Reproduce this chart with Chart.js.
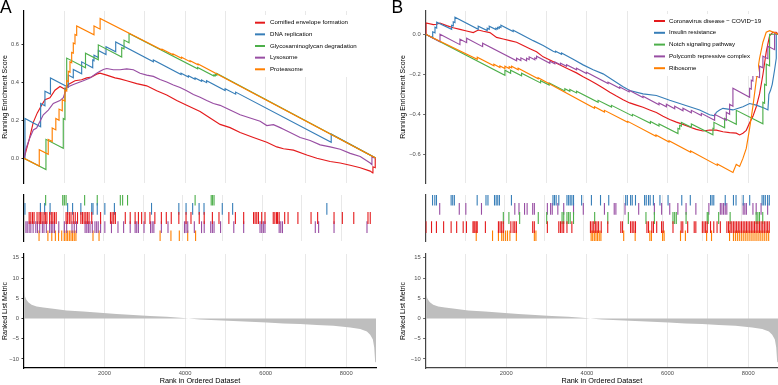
<!DOCTYPE html>
<html><head><meta charset="utf-8">
<script src="https://cdn.jsdelivr.net/npm/chart.js@4.4.1/dist/chart.umd.min.js"></script>
<style>
html,body{margin:0;padding:0;background:#fff;}
#wrap{position:relative;width:778px;height:385px;overflow:hidden;background:#fff;}
canvas{position:absolute;}
</style></head><body>
<div id="wrap">
<canvas id="aTop"></canvas><canvas id="aCode"></canvas><canvas id="aMetric"></canvas>
<canvas id="bTop"></canvas><canvas id="bCode"></canvas><canvas id="bMetric"></canvas>
</div>
<script>
// ---------------- DATA ----------------
const N_GENES = 8740;
const setColors = ['#E41A1C', '#377EB8', '#4DAF4A', '#984EA3', '#FF7F00'];
const setsA = ['Cornified envelope formation', 'DNA replication', 'Glycosaminoglycan degradation', 'Lysosome', 'Proteasome'];
const setsB = ['Coronavirus disease \u2212 COVID\u221219', 'Insulin resistance', 'Notch signaling pathway', 'Polycomb repressive complex', 'Ribosome'];
const xTickLabels = [2000, 4000, 6000, 8000];
const xGridLines = [1000, 2000, 3000, 4000, 5000, 6000, 7000, 8000];

// running enrichment score vertices [rank, score]
const esA_cornified = [[0,0],[65,0.05],[130,0.10],[230,0.19],[330,0.24],[437,0.28],[520,0.31],[644,0.32],[769,0.36],[893,0.38],[1017,0.365],[1100,0.39],[1266,0.41],[1431,0.415],[1556,0.425],[1680,0.43],[1804,0.445],[1887,0.45],[2053,0.44],[2260,0.425],[2384,0.42],[2550,0.41],[2798,0.395],[3047,0.383],[3295,0.357],[3544,0.335],[3792,0.306],[4040,0.28],[4372,0.247],[4620,0.213],[4869,0.179],[5117,0.162],[5366,0.136],[5697,0.11],[6028,0.085],[6277,0.06],[6443,0.05],[6691,0.043],[7022,0.017],[7271,0],[7602,-0.017],[7851,-0.025],[8099,-0.037],[8348,-0.05],[8596,-0.068],[8660,-0.078],[8664,-0.045],[8721,-0.05],[8721,-0.005],[8740,0]];
const esA_dna = [[0,0],[24,-0.003],[24,0.21],[413,0.166],[413,0.29],[520,0.278],[520,0.355],[657,0.34],[657,0.425],[1099,0.376],[1099,0.44],[1224,0.426],[1224,0.47],[1432,0.447],[1432,0.51],[1706,0.479],[1706,0.52],[1738,0.516],[1738,0.545],[1845,0.533],[1845,0.57],[2036,0.549],[2036,0.59],[2277,0.563],[2277,0.615],[3212,0.51],[3212,0.52],[3900,0.443],[3900,0.45],[4082,0.43],[4082,0.437],[4248,0.418],[4248,0.425],[4410,0.407],[4410,0.414],[4534,0.40],[4534,0.41],[4994,0.358],[4994,0.368],[5255,0.339],[5255,0.35],[7628,0.084],[7628,0.128],[8740,0]];
const esA_glyco = [[0,0],[545,-0.06],[545,0.10],[975,0.053],[975,0.21],[1017,0.205],[1017,0.37],[1060,0.365],[1060,0.53],[1527,0.479],[1527,0.556],[1845,0.521],[1845,0.60],[2426,0.536],[2426,0.585],[2484,0.579],[2484,0.625],[2608,0.611],[2608,0.66],[4310,0.473],[4310,0.48],[4715,0.435],[4715,0.44],[4750,0.436],[4750,0.443],[4787,0.439],[4787,0.449],[8740,0]];
const esA_lyso = [[0,0],[48,0.05],[130,0.1],[230,0.15],[313,0.16],[479,0.23],[603,0.255],[727,0.29],[893,0.305],[976,0.32],[1059,0.375],[1225,0.39],[1473,0.41],[1638,0.425],[1804,0.45],[1887,0.46],[1970,0.47],[2053,0.475],[2218,0.468],[2384,0.468],[2550,0.473],[2715,0.468],[2881,0.45],[3047,0.44],[3212,0.433],[3378,0.417],[3544,0.403],[3709,0.388],[3875,0.374],[4040,0.357],[4206,0.337],[4372,0.323],[4537,0.306],[4703,0.29],[4869,0.28],[5117,0.255],[5366,0.23],[5614,0.213],[5863,0.196],[6028,0.173],[6194,0.178],[6360,0.162],[6443,0.153],[6608,0.136],[6857,0.11],[7105,0.094],[7354,0.071],[7602,0.06],[7851,0.048],[8099,0.026],[8348,0.009],[8596,-0.025],[8639,-0.034],[8639,0.005],[8740,0]];
const esA_proteasome = [[0,0],[379,-0.041],[379,0.045],[602,0.021],[602,0.10],[700,0.089],[700,0.16],[790,0.15],[790,0.21],[870,0.201],[870,0.26],[950,0.251],[950,0.31],[1017,0.303],[1017,0.36],[1060,0.355],[1060,0.41],[1099,0.406],[1099,0.46],[1142,0.455],[1142,0.51],[1184,0.505],[1184,0.56],[1224,0.556],[1224,0.61],[1266,0.605],[1266,0.655],[1308,0.65],[1308,0.70],[1738,0.653],[1738,0.70],[1890,0.683],[1890,0.74],[3428,0.572],[3428,0.577],[3701,0.547],[3701,0.552],[3912,0.529],[3912,0.534],[4123,0.511],[4123,0.516],[4322,0.494],[4322,0.499],[8740,0]];

const esB_covid = [[0,0],[10,0],[10,0.056],[191,0.048],[274,0.05],[357,0.056],[522,0.043],[687,0.032],[852,0.024],[1017,0.016],[1182,0.008],[1306,0.021],[1430,0.015],[1595,0.008],[1760,-0.016],[1925,-0.024],[2091,-0.032],[2256,-0.04],[2421,-0.056],[2586,-0.072],[2751,-0.088],[2916,-0.113],[3081,-0.129],[3247,-0.145],[3412,-0.161],[3577,-0.177],[3742,-0.193],[3907,-0.212],[4072,-0.23],[4237,-0.249],[4402,-0.269],[4568,-0.29],[4733,-0.309],[4898,-0.327],[5063,-0.343],[5228,-0.354],[5393,-0.365],[5558,-0.378],[5724,-0.391],[5889,-0.41],[6054,-0.426],[6219,-0.439],[6384,-0.45],[6549,-0.463],[6714,-0.475],[6880,-0.483],[7045,-0.478],[7210,-0.479],[7375,-0.487],[7540,-0.491],[7705,-0.494],[7788,-0.503],[7870,-0.494],[7953,-0.48],[8036,-0.442],[8118,-0.41],[8201,-0.362],[8283,-0.298],[8366,-0.201],[8448,-0.088],[8531,-0.008],[8614,0.01],[8696,0.01],[8740,0]];
const esB_insulin = [[0,0],[176,-0.018],[176,0.012],[233,0.007],[233,0.035],[275,0.031],[275,0.06],[646,0.025],[646,0.045],[686,0.042],[686,0.062],[728,0.058],[728,0.085],[1305,0.025],[1305,0.04],[1528,0.018],[1528,0.03],[1578,0.025],[1578,0.04],[1744,0.023],[1744,0.03],[1786,0.026],[1786,0.034],[1826,0.03],[1826,0.038],[1868,0.034],[1868,0.045],[2172,0.013],[2172,0.02],[2669,-0.032],[2916,-0.056],[3164,-0.085],[3223,-0.09],[3223,-0.085],[3371,-0.1],[3371,-0.094],[3660,-0.125],[3907,-0.153],[4155,-0.177],[4402,-0.198],[4650,-0.23],[4898,-0.262],[5063,-0.281],[5393,-0.298],[5724,-0.306],[6054,-0.33],[6302,-0.346],[6549,-0.362],[6797,-0.378],[7045,-0.402],[7169,-0.407],[7211,-0.39],[7292,-0.378],[7375,-0.37],[7623,-0.378],[7870,-0.362],[8036,-0.346],[8201,-0.354],[8407,-0.37],[8490,-0.378],[8514,-0.30],[8555,-0.28],[8597,-0.25],[8654,-0.18],[8697,-0.12],[8697,0.0],[8740,0]];
const esB_notch = [[0,0],[1967,-0.205],[1967,-0.18],[2108,-0.195],[2108,-0.18],[2380,-0.208],[2380,-0.195],[2851,-0.243],[2851,-0.232],[3064,-0.254],[3064,-0.243],[3453,-0.283],[3453,-0.272],[3577,-0.285],[3577,-0.276],[3743,-0.293],[3743,-0.285],[4278,-0.34],[4278,-0.33],[4610,-0.364],[4610,-0.355],[5130,-0.408],[5130,-0.4],[5576,-0.445],[5576,-0.436],[5789,-0.458],[5789,-0.448],[6259,-0.496],[6259,-0.47],[6302,-0.474],[6302,-0.455],[6344,-0.459],[6344,-0.44],[6591,-0.465],[6591,-0.448],[7126,-0.502],[7126,-0.47],[7151,-0.472],[7151,-0.44],[7416,-0.467],[7416,-0.42],[7706,-0.45],[7706,-0.38],[8365,-0.447],[8365,-0.34],[8407,-0.345],[8407,-0.25],[8449,-0.255],[8449,-0.15],[8531,-0.158],[8531,0.0],[8740,0]];
const esB_polycomb = [[0,0],[357,-0.038],[357,0.0],[852,-0.052],[852,-0.025],[1018,-0.042],[1018,-0.02],[1414,-0.062],[1414,-0.045],[2257,-0.133],[2257,-0.12],[2363,-0.131],[2363,-0.118],[2504,-0.133],[2504,-0.12],[2569,-0.127],[2569,-0.113],[2710,-0.128],[2710,-0.118],[2752,-0.122],[2752,-0.11],[3081,-0.145],[3081,-0.135],[3205,-0.148],[3205,-0.138],[3346,-0.153],[3346,-0.145],[3495,-0.16],[3495,-0.152],[3743,-0.178],[3743,-0.17],[3990,-0.196],[3990,-0.19],[4525,-0.246],[4525,-0.24],[4815,-0.27],[4815,-0.263],[5046,-0.288],[5046,-0.28],[5392,-0.316],[5392,-0.31],[5789,-0.352],[5789,-0.343],[5972,-0.362],[5972,-0.35],[6178,-0.372],[6178,-0.36],[6383,-0.382],[6383,-0.37],[6591,-0.392],[6591,-0.38],[6839,-0.406],[6839,-0.395],[7168,-0.43],[7168,-0.40],[7458,-0.43],[7458,-0.39],[7540,-0.4],[7540,-0.35],[7622,-0.36],[7622,-0.27],[8036,-0.315],[8036,-0.27],[8078,-0.274],[8078,-0.23],[8117,-0.234],[8117,-0.2],[8283,-0.217],[8283,-0.16],[8365,-0.168],[8365,-0.11],[8489,-0.122],[8489,-0.06],[8655,-0.077],[8655,0.005],[8740,0]];
const esB_ribosome = [[0,0],[1281,-0.125],[1281,-0.115],[1694,-0.158],[1694,-0.15],[1843,-0.166],[1843,-0.158],[1967,-0.171],[1967,-0.16],[2073,-0.171],[2073,-0.162],[2133,-0.168],[2133,-0.16],[2296,-0.178],[2296,-0.17],[2792,-0.222],[2792,-0.217],[4189,-0.37],[4189,-0.362],[4436,-0.389],[4436,-0.38],[5013,-0.44],[5013,-0.435],[5714,-0.51],[5714,-0.503],[6036,-0.538],[6036,-0.532],[6574,-0.59],[6574,-0.583],[7235,-0.655],[7235,-0.648],[7623,-0.69],[7705,-0.65],[7788,-0.66],[7870,-0.62],[7953,-0.57],[8036,-0.47],[8118,-0.36],[8201,-0.23],[8283,-0.12],[8366,-0.04],[8448,0.01],[8531,0.018],[8740,0]];

// gene-set hit ranks (barcode)
const hitsA_cornified = [130,172,215,254,329,379,413,453,503,538,578,645,687,727,769,811,1060,1099,1142,1184,1241,1291,1348,1432,1472,1514,1557,1596,1639,1706,1929,2178,2218,2260,2302,2551,2675,2799,2882,2963,3048,3172,3296,3460,3584,3709,3900,4081,4206,4414,4539,4745,4911,5160,5324,5533,5781,5821,5863,5905,5987,6070,6278,6318,6361,6386,6427,6566,6651,6899,7230,7396,7809,8018,8306,8664,8721];
const hitsA_dna = [24,413,520,657,1099,1224,1432,1706,1738,1845,2036,2277,3212,3900,4082,4248,4410,4534,4994,5255,7628];
const hitsA_glyco = [545,975,1017,1060,1527,1845,2426,2484,2608,4310,4715,4750,4787];
const hitsA_lyso = [48,81,130,172,230,297,339,396,463,503,563,645,687,727,769,876,1017,1075,1209,1266,1323,1539,1581,1621,1663,1721,1787,1830,1870,1929,2036,2203,2367,2509,2675,2799,2839,2882,3023,3187,3229,3271,3460,3627,4042,4081,4124,4290,4472,4539,4703,4745,4787,4951,5284,5533,5945,5987,6029,6070,6427,6467,6510,7337,7421,7809,8639];
const hitsA_proteasome = [379,602,700,790,870,950,1017,1060,1099,1142,1184,1224,1266,1308,1738,1890,3428,3701,3912,4123,4322];

const hitsB_covid = [10,150,274,456,646,786,951,1034,1199,1224,1248,1281,1306,1513,1843,1884,1925,1967,2157,2214,2256,2297,2710,2751,3081,3370,3412,3453,3494,3577,3701,4171,4213,4254,4295,4336,4378,4444,4609,4939,4980,5187,5228,5269,5311,5600,5641,5724,5765,5848,5971,6013,6260,6467,6508,6632,6797,6838,7003,7045,7086,7127,7210,7292,7375,7458,7623,7664,7705,7747,7788,7829,7870,7912,7953,7994,8036,8077,8118,8159,8201,8242,8283,8324,8366,8407,8448,8490,8531,8572,8614,8655,8696];
const hitsB_insulin = [176,233,275,646,686,728,1305,1528,1578,1744,1786,1826,1868,2172,3223,3262,3304,3371,3577,3619,3659,3701,3743,3948,4196,4426,4634,5063,5105,5187,5229,5311,5541,5583,5640,5682,5764,5930,6135,6482,6698,7211,7250,7292,7582,7790,7855,8037,8201,8514,8555,8597,8654,8697];
const hitsB_notch = [1967,2108,2380,2851,3064,3453,3495,3577,3619,3659,3743,4278,4610,5130,5576,5789,6259,6302,6344,6591,7126,7151,7416,7706,8365,8407,8449,8531];
const hitsB_polycomb = [357,852,1018,1414,2257,2363,2504,2569,2710,2752,3081,3163,3205,3346,3495,3743,3990,4525,4773,4815,5046,5392,5789,5972,6178,6383,6591,6839,7168,7458,7498,7540,7582,7622,8036,8078,8117,8283,8365,8489,8655];
const hitsB_ribosome = [1281,1694,1843,1925,1967,2024,2073,2133,2296,2752,2792,4189,4228,4270,4312,4352,4394,4436,5013,5303,5674,5714,5997,6036,6450,6574,7111,7235,7691,7790,7839,7889,7938,7988,8037,8087,8136,8186,8236,8285,8335,8384,8434,8483,8533,8582,8632,8681];

// barcode row of each set (0 = bottom row)
const rowsA = [2, 3, 4, 1, 0];
const rowsB = [1, 4, 2, 3, 0];

// ranked list metric [rank, value]
const rankedMetric = [[1,6.8],[23,5.5],[48,4.8],[106,4.0],[189,3.4],[313,3.0],[479,2.7],[727,2.4],[1059,2.0],[1473,1.75],[1887,1.4],[2301,1.1],[2715,0.9],[3129,0.63],[3544,0.45],[3958,0.16],[4082,0],[4372,-0.24],[4786,-0.4],[5200,-0.63],[5614,-0.8],[6028,-0.95],[6443,-1.2],[6857,-1.35],[7271,-1.6],[7685,-1.8],[8099,-2.2],[8348,-2.6],[8515,-3.2],[8596,-4.0],[8662,-5.2],[8695,-7.1],[8720,-10.7],[8740,-10.9]];

// ---------------- CHARTS ----------------
const FONT = "'Liberation Sans', Arial, Helvetica, sans-serif";
Chart.defaults.font.family = FONT;
Chart.defaults.color = '#4d4d4d';
const MINUS = '\u2212';
const fmt1 = v => (v < -1e-9 ? MINUS : '') + Math.abs(v).toFixed(1);
const fmt0 = v => (v < -1e-9 ? MINUS : '') + Math.abs(Math.round(v));

const gseaLegend = {
  id: 'gseaLegend',
  afterDraw(chart, args, o) {
    if (!o || !o.labels) return;
    const ctx = chart.ctx;
    ctx.save();
    ctx.fillStyle = '#fff';
    ctx.fillRect(o.box[0], o.box[1], o.box[2], o.box[3]);
    ctx.font = o.fontSize + 'px ' + FONT;
    ctx.textBaseline = 'middle';
    ctx.textAlign = 'left';
    o.labels.forEach((t, i) => {
      const y = o.y0 + i * o.dy;
      ctx.strokeStyle = setColors[i];
      ctx.lineWidth = 2;
      ctx.beginPath(); ctx.moveTo(o.lx0, y); ctx.lineTo(o.lx1, y); ctx.stroke();
      ctx.fillStyle = '#000';
      ctx.fillText(t, o.tx, y);
    });
    ctx.font = o.tagSize + 'px ' + FONT;
    ctx.textBaseline = 'alphabetic';
    ctx.fillStyle = '#000';
    ctx.fillText(o.tag, o.tagX, o.tagY);
    ctx.restore();
  }
};

// labelled x axis (ticks only at 2000..8000) + a grid-only x axis (every 1000)
function xScales(show, axisColor) {
  return {
    x: {
      type: 'linear', position: 'bottom', min: 0, max: N_GENES,
      afterBuildTicks: s => { s.ticks = xTickLabels.map(v => ({ value: v })); },
      ticks: { display: show, autoSkip: false, maxRotation: 0, minRotation: 0, padding: 1.5,
        font: { size: 5.8 }, color: '#4d4d4d', callback: v => String(v) },
      grid: { display: false, drawTicks: false },
      border: { display: show, color: axisColor, width: 1.2 },
      title: { display: show, text: 'Rank in Ordered Dataset', color: '#000', font: { size: 7.3 }, padding: { top: 0, bottom: 0 } },
      afterFit: s => { s.height = show ? 17 : 0; }
    },
    xg: {
      type: 'linear', axis: 'x', position: 'bottom', min: 0, max: N_GENES,
      afterBuildTicks: s => { s.ticks = xGridLines.map(v => ({ value: v })); },
      ticks: { display: false },
      grid: { display: true, color: '#e8e8e8', lineWidth: 1, drawTicks: false },
      border: { display: false },
      afterFit: s => { s.height = 0; }
    }
  };
}
function yAxis(min, max, step, title, fmt, axisColor, width, showTicks) {
  return {
    type: 'linear', min, max,
    ticks: { display: showTicks, stepSize: step, includeBounds: false, autoSkip: false, padding: 2.5, font: { size: 5.8 }, color: '#4d4d4d', callback: fmt },
    grid: { display: showTicks, drawOnChartArea: false, drawTicks: true, tickLength: 2.5, color: axisColor, tickColor: axisColor, tickWidth: 0.8 },
    border: { display: true, color: axisColor, width: 1.2 },
    title: { display: !!title, text: title, color: '#000', font: { size: 7 }, padding: { top: 1, bottom: 0 } },
    afterFit: s => { s.width = width; }
  };
}
function place(id, left, top, w, h) {
  const c = document.getElementById(id);
  c.width = w; c.height = h;
  c.style.left = left + 'px'; c.style.top = top + 'px';
  c.style.width = w + 'px'; c.style.height = h + 'px';
  return c;
}
const common = { responsive: false, animation: false, events: [], devicePixelRatio: 1 };

function esChart(id, left, w, padLeft, yW, yMin, yMax, series, labels, axisColor, legend) {
  place(id, left, 0, w, 189);
  return new Chart(document.getElementById(id), {
    type: 'scatter',
    data: { datasets: series.map((s, i) => ({
      label: labels[i], data: s.map(p => ({ x: p[0], y: p[1] })), xAxisID: 'x', yAxisID: 'y',
      showLine: true, borderColor: setColors[i], borderWidth: 1.15, pointRadius: 0, fill: false, tension: 0, order: 4 - i
    })) },
    options: Object.assign({}, common, {
      layout: { padding: { left: padLeft, top: 11, right: legend.padRight, bottom: 0 } },
      scales: Object.assign(xScales(false, axisColor), { y: yAxis(yMin, yMax, 0.2, 'Running Enrichment Score', fmt1, axisColor, yW, true) }),
      plugins: { legend: { display: false }, tooltip: { enabled: false }, gseaLegend: legend }
    }),
    plugins: [gseaLegend]
  });
}
function codeChart(id, left, w, padLeft, padRight, yW, hits, rows, axisColor) {
  place(id, left, 188, w, 60);
  return new Chart(document.getElementById(id), {
    type: 'scatter',
    data: { datasets: hits.map((h, i) => ({
      data: h.map(r => ({ x: r, y: rows[i] + 0.5 })), xAxisID: 'x', yAxisID: 'y',
      pointStyle: 'line', pointRotation: 90, pointRadius: 5.9, pointBorderWidth: 1.1,
      pointBorderColor: setColors[i], pointBackgroundColor: setColors[i], showLine: false
    })) },
    options: Object.assign({}, common, {
      layout: { padding: { left: padLeft, top: 0, right: padRight, bottom: 0 } },
      scales: Object.assign(xScales(false, axisColor), { y: yAxis(0, 5, 1, '', fmt0, axisColor, yW, false) }),
      plugins: { legend: { display: false }, tooltip: { enabled: false } }
    })
  });
}
function metricChart(id, left, w, padLeft, padRight, yW, axisColor) {
  place(id, left, 248, w, 137);
  return new Chart(document.getElementById(id), {
    type: 'scatter',
    data: { datasets: [{
      data: rankedMetric.map(p => ({ x: p[0], y: p[1] })), xAxisID: 'x', yAxisID: 'y',
      showLine: true, borderWidth: 0, borderColor: 'rgba(0,0,0,0)', pointRadius: 0,
      fill: 'origin', backgroundColor: '#bebebe', tension: 0
    }] },
    options: Object.assign({}, common, {
      layout: { padding: { left: padLeft, top: 2, right: padRight, bottom: 0 } },
      scales: Object.assign(xScales(true, axisColor), { y: yAxis(-12.23, 15.96, 5, 'Ranked List Metric', fmt0, axisColor, yW, true) }),
      plugins: { legend: { display: false }, tooltip: { enabled: false } }
    })
  });
}

// Panel A
esChart('aTop', 0, 378, 0, 24, -0.131, 0.779,
  [esA_cornified, esA_dna, esA_glyco, esA_lyso, esA_proteasome], setsA, '#000',
  { labels: setsA, box: [250, 15, 112, 62], y0: 22.7, dy: 11.65, lx0: 255, lx1: 265, tx: 270, fontSize: 6.1,
    tag: 'A', tagSize: 17.5, tagX: 0, tagY: 13.3, padRight: 2 });
codeChart('aCode', 0, 378, 0, 2, 24, [hitsA_cornified, hitsA_dna, hitsA_glyco, hitsA_lyso, hitsA_proteasome], rowsA, '#000');
metricChart('aMetric', 0, 378, 0, 2, 24, '#000');

// Panel B
esChart('bTop', 390, 388, 8, 27.6, -0.743, 0.116,
  [esB_covid, esB_insulin, esB_notch, esB_polycomb, esB_ribosome], setsB, '#444',
  { labels: setsB, box: [258, 14, 110, 62], y0: 21, dy: 11.8, lx0: 264, lx1: 275, tx: 279, fontSize: 6.1,
    tag: 'B', tagSize: 17.5, tagX: 1.5, tagY: 13.3, padRight: 0 });
codeChart('bCode', 390, 388, 8, 0, 27.6, [hitsB_covid, hitsB_insulin, hitsB_notch, hitsB_polycomb, hitsB_ribosome], rowsB, '#444');
metricChart('bMetric', 390, 388, 8, 0, 27.6, '#444');
</script>
</body></html>
